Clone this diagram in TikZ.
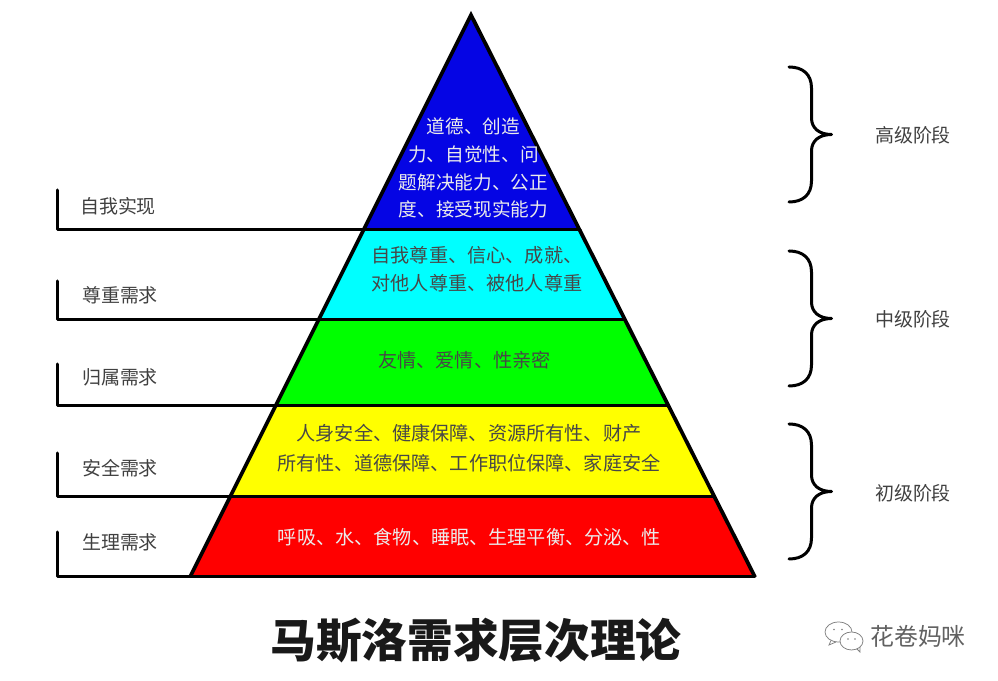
\documentclass[tikz,border=0pt]{standalone}
\usepackage{fontspec}
\setmainfont{Noto Sans CJK SC}
\definecolor{topblue}{RGB}{5,5,228}
\definecolor{lvlcyan}{RGB}{0,255,255}
\definecolor{lvlgreen}{RGB}{0,255,0}
\definecolor{lvlyellow}{RGB}{255,255,0}
\definecolor{lvlred}{RGB}{255,0,0}

\begin{document}
\begin{tikzpicture}[
  edge/.style={draw=black, line width=0.75mm, line join=miter},
  rule/.style={draw=black, line width=0.6mm, line cap=round, line join=round},
  stagebrace/.pic={
    \draw[rule] (0,0) .. controls (0.27,0) and (0.45,-0.14) .. (0.45,-0.42)
      -- (0.45,-1.02) .. controls (0.45,-1.22) and (0.60,-1.35) .. (0.85,-1.35)
      .. controls (0.60,-1.35) and (0.45,-1.48) .. (0.45,-1.68)
      -- (0.45,-2.28) .. controls (0.45,-2.56) and (0.27,-2.70) .. (0,-2.70);
  },
  bandtext/.style={font=\fontsize{10.9}{16}\selectfont, align=center, inner sep=0pt},
  lighttext/.style={bandtext, text=black!8},
  darktext/.style={bandtext, text=black!72},
  sidetext/.style={font=\fontsize{10.8}{13}\selectfont, text=black!75, inner sep=0pt}
]
\useasboundingbox (0,0) rectangle (19.96,13.62);

% ---------- pyramid corners ----------
\coordinate (top) at (9.42,13.32);
\coordinate (l1)  at (7.27,9.02);   \coordinate (r1)  at (11.60,9.02);
\coordinate (l2)  at (6.37,7.22);   \coordinate (r2)  at (12.50,7.22);
\coordinate (l3)  at (5.51,5.50);   \coordinate (r3)  at (13.36,5.50);
\coordinate (l4)  at (4.60,3.68);   \coordinate (r4)  at (14.29,3.68);
\coordinate (l5)  at (3.80,2.08);   \coordinate (r5)  at (15.10,2.08);

% ---------- colour bands ----------
\fill[topblue]   (top) -- (l1) -- (r1) -- cycle;
\fill[lvlcyan]   (l1) -- (l2) -- (r2) -- (r1) -- cycle;
\fill[lvlgreen]  (l2) -- (l3) -- (r3) -- (r2) -- cycle;
\fill[lvlyellow] (l3) -- (l4) -- (r4) -- (r3) -- cycle;
\fill[lvlred]    (l4) -- (l5) -- (r5) -- (r4) -- cycle;

% ---------- left brackets, running in under the pyramid ----------
\coordinate (b1) at (1.14,9.02);  \coordinate (t1) at (1.14,9.82);
\coordinate (b2) at (1.14,7.22);  \coordinate (t2) at (1.14,8.00);
\coordinate (b3) at (1.14,5.50);  \coordinate (t3) at (1.14,6.34);
\coordinate (b4) at (1.14,3.68);  \coordinate (t4) at (1.14,4.56);
\coordinate (b5) at (1.14,2.08);  \coordinate (t5) at (1.14,2.98);
\draw[rule] (t1) -- (b1) -- (r1);
\draw[rule] (t2) -- (b2) -- (r2);
\draw[rule] (t3) -- (b3) -- (r3);
\draw[rule] (t4) -- (b4) -- (r4);
\draw[rule] (t5) -- (b5) -- (r5);

% ---------- outline ----------
\draw[edge] (l5) -- (top) -- (r5);

% ---------- text in the bands ----------
\node[lighttext, font=\fontsize{10.6}{15.9}\selectfont] (t_self) at (9.47,10.26)
  {道德、创造\\力、自觉性、问\\题解决能力、公正\\度、接受现实能力};
\node[darktext]  (t_esteem) at (9.54,8.24) {自我尊重、信心、成就、\\对他人尊重、被他人尊重};
\node[darktext]  (t_love)   at (9.29,6.42) {友情、爱情、性亲密};
\node[darktext, font=\fontsize{10.9}{17}\selectfont] (t_safe) at (9.38,4.66)
  {人身安全、健康保障、资源所有性、财产\\所有性、道德保障、工作职位保障、家庭安全};
\node[lighttext] (t_body)   at (9.39,2.87) {呼吸、水、食物、睡眠、生理平衡、分泌、性};

% ---------- level names ----------
\node[sidetext] (n1) at (2.36,9.50) {自我实现};
\node[sidetext] (n2) at (2.40,7.72) {尊重需求};
\node[sidetext] (n3) at (2.40,6.08) {归属需求};
\node[sidetext] (n4) at (2.40,4.26) {安全需求};
\node[sidetext] (n5) at (2.40,2.78) {生理需求};

% ---------- braces and stages ----------
\pic at (15.78,12.28) {stagebrace};
\pic at (15.78,8.60)  {stagebrace};
\pic at (15.78,5.14)  {stagebrace};
\node[sidetext] (s1) at (18.26,10.91) {高级阶段};
\node[sidetext] (s2) at (18.26,7.24)  {中级阶段};
\node[sidetext] (s3) at (18.26,3.75)  {初级阶段};

% ---------- title ----------
\node[font=\fontsize{26}{30}\bfseries\selectfont, text=black!90, inner sep=0pt] (title) at (9.52,0.80)
  {马斯洛需求层次理论};

% ---------- watermark ----------
\node[font=\fontsize{13.6}{16}\selectfont, text=black!62, inner sep=0pt] (mark) at (18.36,0.90) {花卷妈咪};
\begin{scope}[draw=black!50, line width=0.15mm]
  \draw[fill=white] (16.77,0.98) ellipse (0.27 and 0.20);
  \draw (16.62,0.81) -- (16.58,0.72) -- (16.72,0.78);
  \draw[fill=white] (17.03,0.80) ellipse (0.23 and 0.18);
  \draw (17.14,0.64) -- (17.20,0.58) -- (17.20,0.68);
  \fill[black!50] (16.68,1.03) circle (0.018) (16.84,1.03) circle (0.018)
                  (16.96,0.84) circle (0.018) (17.10,0.84) circle (0.018);
\end{scope}
\end{tikzpicture}
\end{document}
